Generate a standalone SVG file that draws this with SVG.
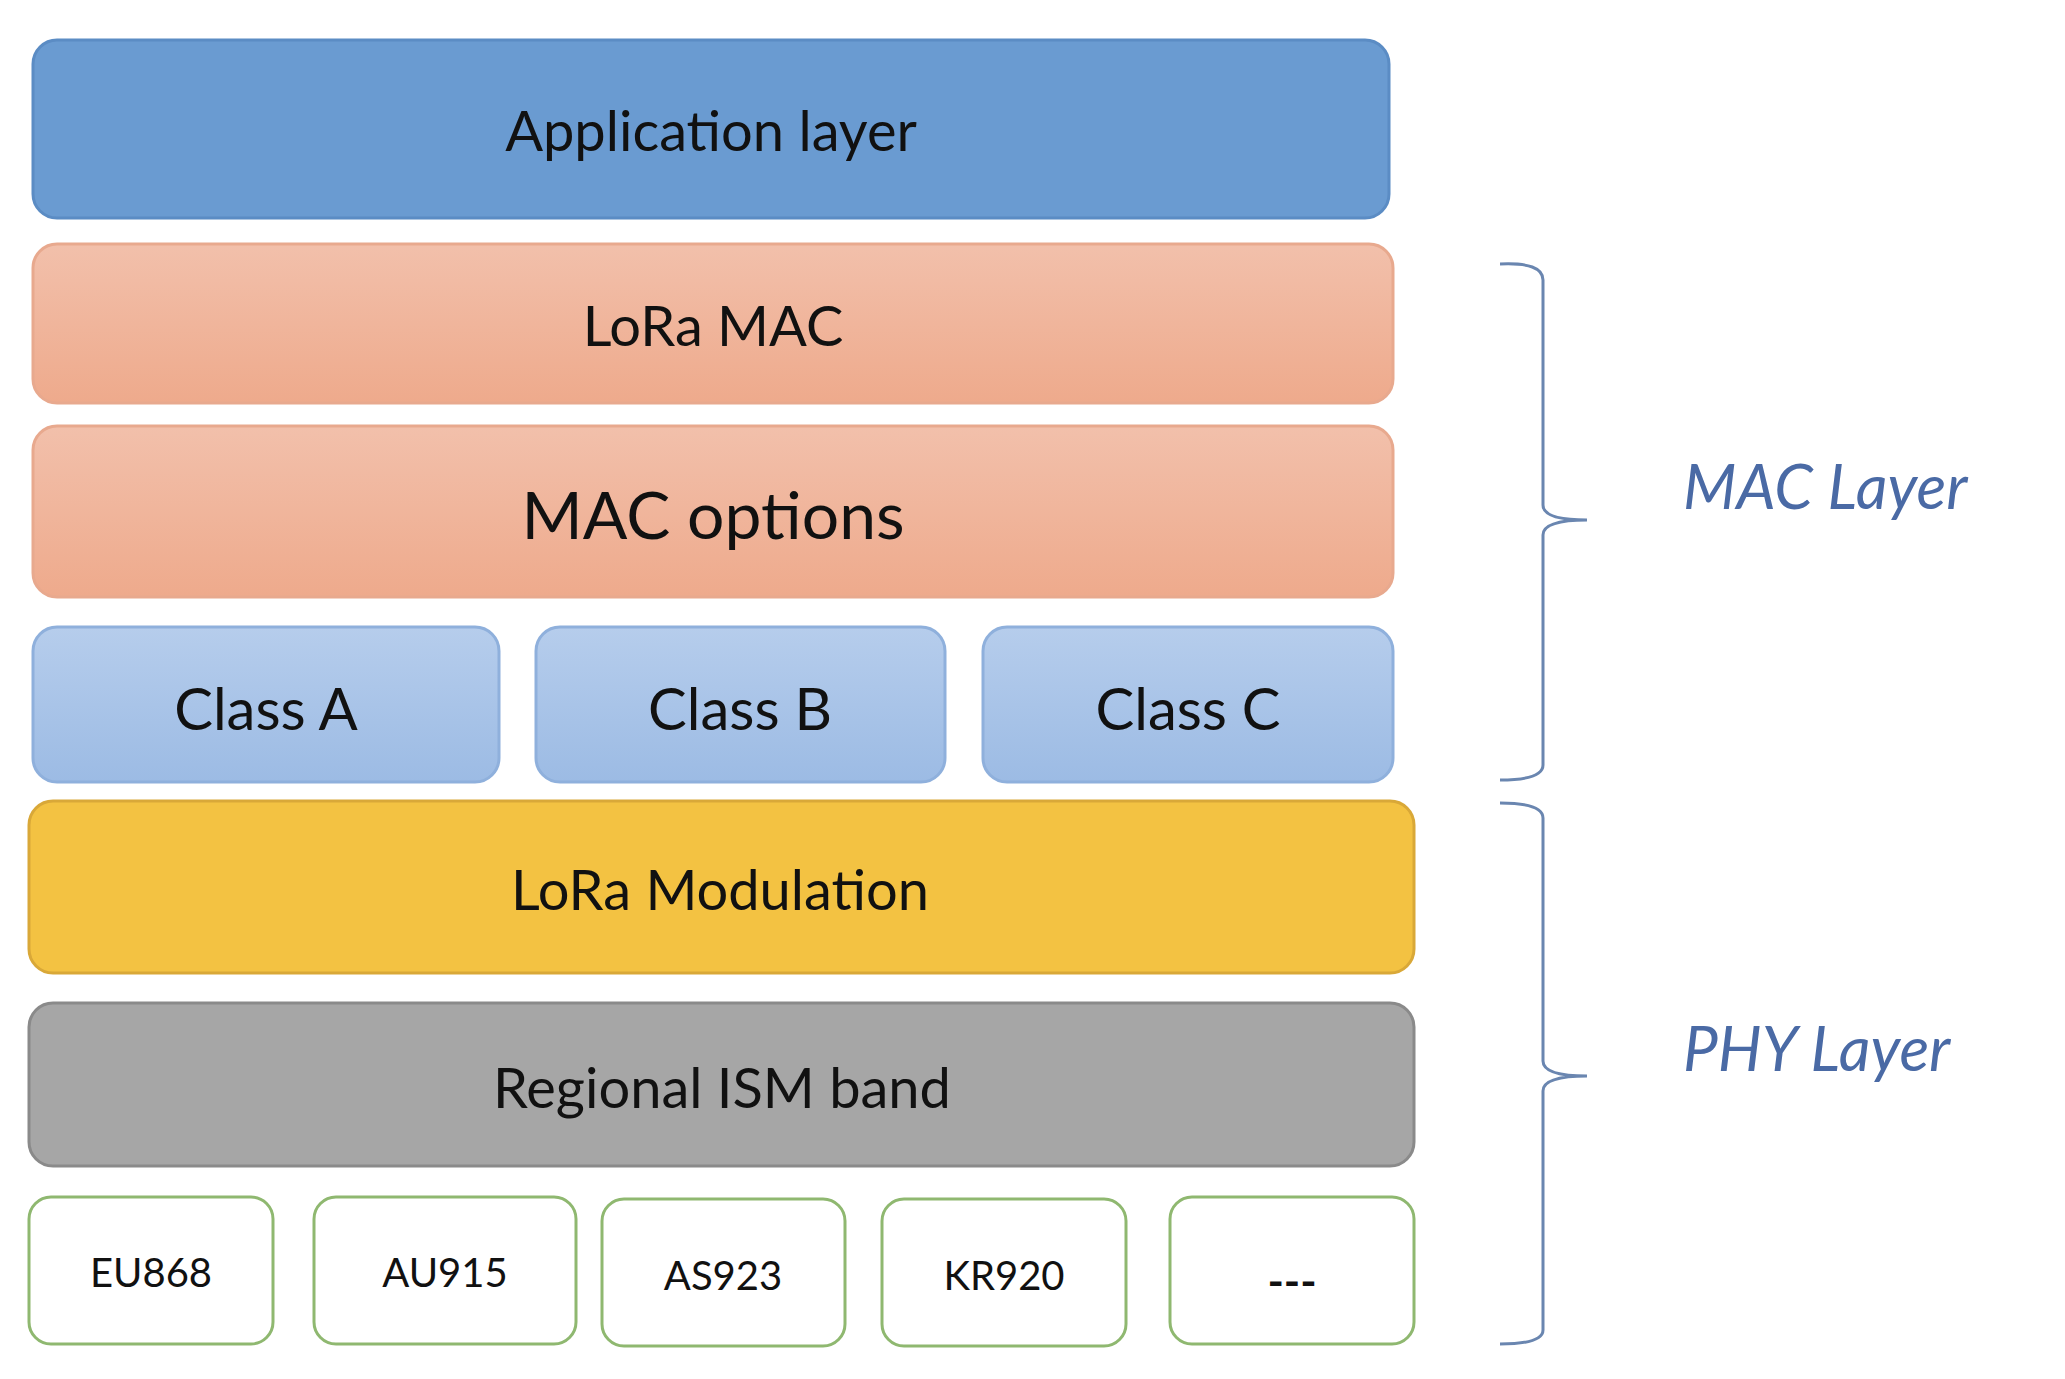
<svg xmlns="http://www.w3.org/2000/svg" width="2065" height="1379" viewBox="0 0 2065 1379">
<style>
text{font-family:Lato,"Open Sans","Liberation Sans",sans-serif;fill:#111;text-anchor:middle;dominant-baseline:central}
.app{fill:#6a9bd1;stroke:#5b8cc4;stroke-width:3}
.mac{fill:url(#gm);stroke:#e8a98e;stroke-width:3}
.cls{fill:url(#gc);stroke:#8fb0dc;stroke-width:3}
.mod{fill:#f3c242;stroke:#d9a838;stroke-width:3}
.reg{fill:#a6a6a6;stroke:#8a8a8a;stroke-width:3}
.band{fill:#fff;stroke:#8fb870;stroke-width:3}
.br{fill:none;stroke:#6a86b0;stroke-width:3}
.lay{font-style:italic;fill:#4a6aa5;text-anchor:start;font-size:62px}
</style>
<defs>
<linearGradient id="gm" x1="0" y1="0" x2="0" y2="1"><stop offset="0" stop-color="#f2c0ab"/><stop offset="1" stop-color="#eeaa8c"/></linearGradient>
<linearGradient id="gc" x1="0" y1="0" x2="0" y2="1"><stop offset="0" stop-color="#b6cdec"/><stop offset="1" stop-color="#9cbbe4"/></linearGradient>
</defs>
<g id="app"><rect class="app" x="33" y="40" width="1356" height="178" rx="24"/><text x="711" y="129" font-size="56">Application layer</text></g>
<g id="loramac"><rect class="mac" x="33" y="244" width="1360" height="159" rx="24"/><text x="713" y="324" font-size="56">LoRa MAC</text></g>
<g id="macopt"><rect class="mac" x="33" y="426" width="1360" height="171" rx="24"/><text x="713" y="513" font-size="66">MAC options</text></g>
<g id="classA"><rect class="cls" x="33" y="627" width="466" height="155" rx="24"/><text x="266" y="707" font-size="58">Class A</text></g>
<g id="classB"><rect class="cls" x="536" y="627" width="409" height="155" rx="24"/><text x="740" y="707" font-size="58">Class B</text></g>
<g id="classC"><rect class="cls" x="983" y="627" width="410" height="155" rx="24"/><text x="1188" y="707" font-size="58">Class C</text></g>
<g id="mod"><rect class="mod" x="29" y="801" width="1385" height="172" rx="24"/><text x="720" y="888" font-size="56">LoRa Modulation</text></g>
<g id="reg"><rect class="reg" x="29" y="1003" width="1385" height="163" rx="24"/><text x="722" y="1086" font-size="56">Regional ISM band</text></g>
<g id="eu"><rect class="band" x="29" y="1197" width="244" height="147" rx="22"/><text x="151" y="1272" font-size="40">EU868</text></g>
<g id="au"><rect class="band" x="314" y="1197" width="262" height="147" rx="22"/><text x="445" y="1272" font-size="40">AU915</text></g>
<g id="as"><rect class="band" x="602" y="1199" width="243" height="147" rx="22"/><text x="723" y="1275" font-size="40">AS923</text></g>
<g id="kr"><rect class="band" x="882" y="1199" width="244" height="147" rx="22"/><text x="1004" y="1275" font-size="40">KR920</text></g>
<g id="etc"><rect class="band" x="1170" y="1197" width="244" height="147" rx="22"/><text x="1292" y="1280" font-size="44" font-weight="bold">---</text></g>
<g id="connectors">
<path class="br" d="M1500,264 Q1543,262 1543,280 V505 Q1543,520 1587,520 Q1543,520 1543,535 V765 Q1543,780 1500,780"/>
<path class="br" d="M1500,803 Q1543,803 1543,818 V1061 Q1543,1076 1587,1076 Q1543,1076 1543,1091 V1330 Q1543,1344 1500,1344"/>
</g>
<g id="labels">
<text class="lay" x="1683" y="485">MAC Layer</text>
<text class="lay" x="1683" y="1047">PHY Layer</text>
</g>
</svg>
